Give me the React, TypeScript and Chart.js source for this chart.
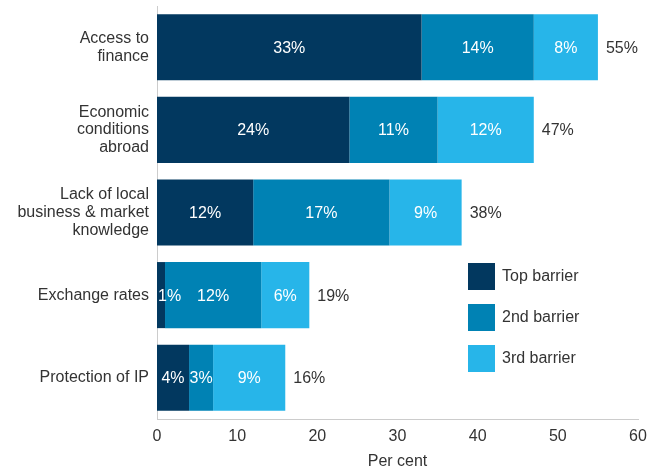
import React, { useEffect, useRef } from "react";
import { Chart, registerables } from "chart.js";

Chart.register(...registerables);

const categories: (string | string[])[] = [
  ["Access to", "finance"],
  ["Economic", "conditions", "abroad"],
  ["Lack of local", "business & market", "knowledge"],
  "Exchange rates",
  "Protection of IP",
];
const seriesNames = ["Top barrier", "2nd barrier", "3rd barrier"];
const topBarrier = [33, 24, 12, 1, 4];
const secondBarrier = [14, 11, 17, 12, 3];
const thirdBarrier = [8, 12, 9, 6, 9];
const totals = [55, 47, 38, 19, 16];
const xTicks = [0, 10, 20, 30, 40, 50, 60];

const colors = ["#02385f", "#0082b4", "#27b5e9"];
const FONT = "'Liberation Sans', Arial, sans-serif";
const TEXT = "#333333";

const labelPlugin = {
  id: "valueLabels",
  afterDatasetsDraw(chart: any) {
    const ctx = chart.ctx;
    ctx.save();
    ctx.font = `16px ${FONT}`;
    ctx.textBaseline = "middle";
    chart.data.datasets.forEach((ds: any, di: number) => {
      const meta = chart.getDatasetMeta(di);
      meta.data.forEach((el: any, i: number) => {
        const v = ds.data[i];
        const txt = `${v}%`;
        const start = Math.min(el.base, el.x);
        const end = Math.max(el.base, el.x);
        const w = ctx.measureText(txt).width;
        ctx.fillStyle = "#ffffff";
        if (w > end - start) {
          ctx.textAlign = "left";
          ctx.fillText(txt, start + 1, el.y + 1);
        } else {
          ctx.textAlign = "center";
          ctx.fillText(txt, (start + end) / 2, el.y + 1);
        }
      });
    });
    const lastMeta = chart.getDatasetMeta(chart.data.datasets.length - 1);
    lastMeta.data.forEach((el: any, i: number) => {
      ctx.fillStyle = TEXT;
      ctx.textAlign = "left";
      ctx.fillText(`${totals[i]}%`, el.x + 8, el.y + 1);
    });
    ctx.restore();
  },
};

const legendPlugin = {
  id: "customLegend",
  afterDraw(chart: any) {
    const ctx = chart.ctx;
    const area = chart.chartArea;
    ctx.save();
    ctx.font = `16px ${FONT}`;
    ctx.textBaseline = "middle";
    ctx.textAlign = "left";
    const x0 = area.right - 170;
    const y0 = area.bottom - 156;
    seriesNames.forEach((name, i) => {
      const y = y0 + i * 41;
      ctx.fillStyle = colors[i];
      ctx.fillRect(x0, y, 27, 27);
      ctx.fillStyle = TEXT;
      ctx.fillText(name, x0 + 34, y + 14);
    });
    ctx.restore();
  },
};

export default function App() {
  const ref = useRef<HTMLCanvasElement>(null);
  useEffect(() => {
    if (!ref.current) return;
    const chart = new Chart(ref.current, {
      type: "bar",
      data: {
        labels: categories,
        datasets: [topBarrier, secondBarrier, thirdBarrier].map((d, i) => ({
          label: seriesNames[i],
          data: d,
          backgroundColor: colors[i],
          borderWidth: 0,
          barPercentage: 0.8,
          categoryPercentage: 1,
        })),
      },
      options: {
        indexAxis: "y",
        animation: false,
        responsive: true,
        maintainAspectRatio: false,
        layout: { padding: { top: 6, right: 26, left: 0, bottom: 0 } },
        plugins: {
          legend: { display: false },
          tooltip: { enabled: false },
        },
        scales: {
          x: {
            stacked: true,
            min: 0,
            max: 60,
            afterBuildTicks: (s: any) => {
              s.ticks = xTicks.map((v) => ({ value: v }));
            },
            afterFit: (s: any) => {
              s.height = 49;
            },
            grid: { display: false, drawTicks: false },
            border: { display: true, color: "#cccccc", width: 1 },
            ticks: {
              color: TEXT,
              font: { family: FONT, size: 16 },
              padding: 8,
            },
            title: {
              display: true,
              text: "Per cent",
              color: TEXT,
              font: { family: FONT, size: 16 },
              padding: { top: 0, bottom: -3 },
            },
          },
          y: {
            stacked: true,
            afterFit: (s: any) => {
              s.width = 157;
              s.paddingTop = 0;
              s.paddingBottom = 0;
            },
            grid: { display: false, drawTicks: false },
            border: { display: true, color: "#cccccc", width: 1 },
            ticks: {
              color: TEXT,
              font: { family: FONT, size: 16, lineHeight: 1.1 },
              padding: 8,
            },
          },
        },
      },
      plugins: [labelPlugin, legendPlugin],
    } as any);
    return () => chart.destroy();
  }, []);
  return (
    <div
      style={{
        position: "fixed",
        left: 0,
        top: 0,
        width: 664,
        height: 468,
        background: "#ffffff",
      }}
    >
      <canvas ref={ref} />
    </div>
  );
}
